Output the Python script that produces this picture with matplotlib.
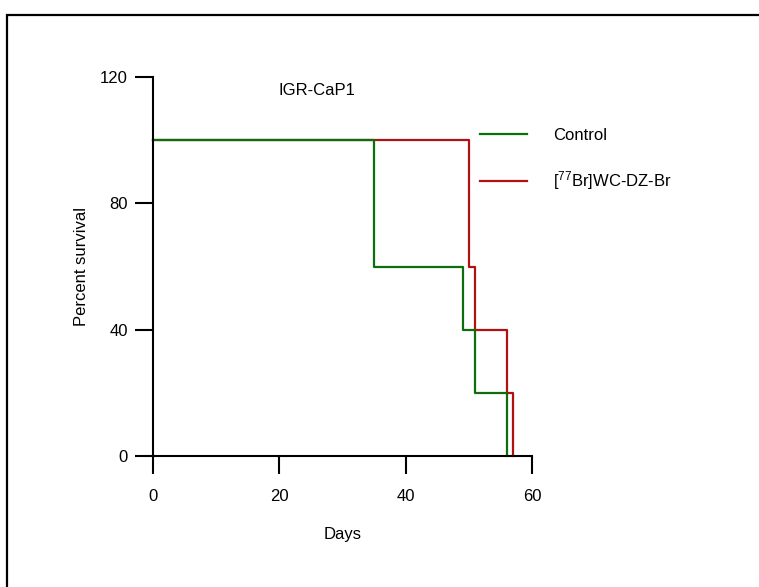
import matplotlib
matplotlib.use("Agg")
import matplotlib.pyplot as plt
from matplotlib.patches import Rectangle
from matplotlib.lines import Line2D

plt.rcParams['font.family'] = ['Liberation Sans', 'DejaVu Sans']
plt.rcParams['mathtext.fontset'] = 'custom'
plt.rcParams['mathtext.rm'] = 'Liberation Sans'
plt.rcParams['mathtext.it'] = 'Liberation Sans'
plt.rcParams['mathtext.default'] = 'regular'

# Data (Kaplan-Meier steps)
control_days = [0, 35, 49, 51, 56]
control_surv = [100, 60, 40, 20, 0]
treat_days = [0, 50, 51, 56, 57]
treat_surv = [100, 60, 40, 20, 0]
series_labels = ['Control', r'[$^{77}$Br]WC-DZ-Br']
x_ticks = [0, 20, 40, 60]
y_ticks = [0, 40, 80, 120]
title_text = 'IGR-CaP1'

green = '#0e6e0e'
red = '#b01212'

W, H = 759, 587
fig = plt.figure(figsize=(W / 100, H / 100), dpi=100)
fig.patches.append(Rectangle((7 / W, -0.1), 1.2, 1.1 - 15 / H,
                             transform=fig.transFigure, fill=False,
                             edgecolor='black', linewidth=1.6))

ax = fig.add_axes([153 / W, 1 - 456 / H, (532 - 153) / W, (456 - 77) / H])
ax.step(treat_days, treat_surv, where='post', color=red, lw=1.6, clip_on=False)
ax.step(control_days, control_surv, where='post', color=green, lw=1.6, clip_on=False)

ax.set_xlim(0, 60)
ax.set_ylim(0, 120)
ax.set_xticks(x_ticks)
ax.set_yticks(y_ticks)
for s in ['top', 'right']:
    ax.spines[s].set_visible(False)
for s in ['left', 'bottom']:
    ax.spines[s].set_linewidth(1.5)
ax.tick_params(axis='both', direction='out', length=13, width=1.5, labelsize=12)
ax.tick_params(axis='x', pad=11)
ax.tick_params(axis='y', pad=5)
ax.set_xlabel('Days', fontsize=12, labelpad=16)
ax.set_ylabel('Percent survival', fontsize=12, labelpad=8)

ax.text(26.0, 115.8, title_text, fontsize=12, ha='center', va='center')

handles = [Line2D([], [], color=green, lw=1.6), Line2D([], [], color=red, lw=1.6)]
ax.legend(handles, series_labels, loc='upper left', frameon=False, fontsize=12,
          bbox_to_anchor=(480 / W, 1 - 128 / H), bbox_transform=fig.transFigure,
          handlelength=2.8, handletextpad=1.6, labelspacing=1.58,
          borderpad=0, borderaxespad=0)

fig.savefig('out.png', dpi=100)
